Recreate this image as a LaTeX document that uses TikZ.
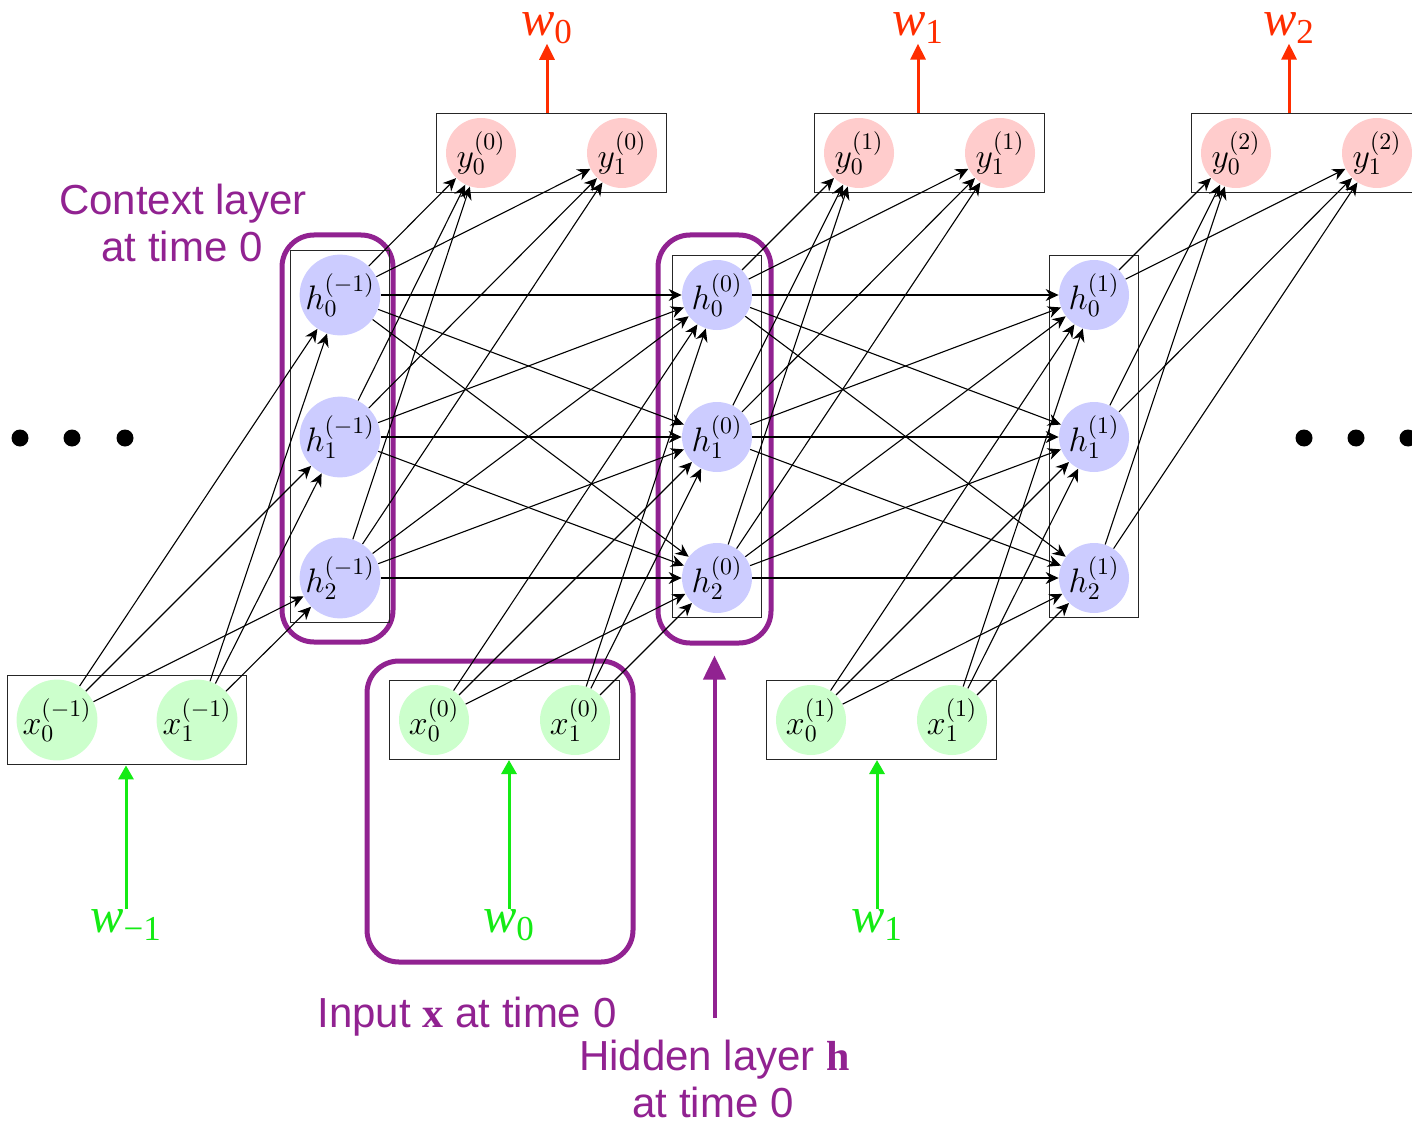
\RequirePackage{fix-cm}
\documentclass[tikz,border=0pt]{standalone}
\usepackage{fontspec}
\newfontfamily\labelsans{Liberation Sans}
\newfontfamily\labelserif{Liberation Serif}
\usetikzlibrary{arrows.meta,fit}
\definecolor{hblue}{RGB}{204,204,255}
\definecolor{ypink}{RGB}{255,204,204}
\definecolor{xgreen}{RGB}{204,255,204}
\definecolor{pur}{RGB}{145,34,145}
\definecolor{wred}{RGB}{255,45,0}
\definecolor{wgreen}{RGB}{20,235,20}
\tikzset{
  neuron/.style={circle, inner sep=0pt, minimum size=35pt, font=\fontsize{17}{20}\selectfont},
  hn/.style={neuron, fill=hblue},
  yn/.style={neuron, fill=ypink},
  xn/.style={neuron, fill=xgreen},
  widen/.style={minimum size=39.5pt},
  layerbox/.style={rectangle, draw=black!85, line width=0.6pt, inner xsep=4.5pt, inner ysep=2pt},
  conn/.style={-{Stealth[length=6.5pt,width=6pt]}, line width=0.55pt},
  hl/.style={rectangle, draw=pur, line width=2.5pt, rounded corners=16pt, inner sep=0pt},
  plab/.style={text=pur, font=\labelsans\fontsize{21}{24}\selectfont, inner sep=0pt, anchor=base},
  wlab/.style={font=\labelserif\fontsize{25}{30}\selectfont, inner sep=0pt},
  redarrow/.style={draw=wred, line width=1.5pt, -{Triangle[length=8pt,width=7.5pt]}},
  greenarrow/.style={draw=wgreen, line width=1.5pt, -{Triangle[length=7pt,width=7.5pt]}},
  parrow/.style={draw=pur, line width=2pt, -{Triangle[length=12pt,width=11pt]}}
}
\begin{document}
\begin{tikzpicture}[x=0.5pt,y=-0.5pt]
\path[fill=white,use as bounding box] (0,0) rectangle (1412,1123);

% purple highlight boxes
\node[hl, minimum width=55.5pt, minimum height=203.5pt] (ctxbox) at (337.5,438.5) {};
\node[hl, minimum width=56.5pt, minimum height=204pt] (hidbox) at (714.5,439) {};
\node[hl, minimum width=133pt, minimum height=150.5pt] (inbox) at (500,811.5) {};

% hidden layers
\node[hn, widen] (hA0) at (340,295) {$h_0^{(-1)}$};
\node[hn, widen] (hA1) at (340,437) {$h_1^{(-1)}$};
\node[hn, widen] (hA2) at (340,578) {$h_2^{(-1)}$};
\node[hn] (hB0) at (717,295) {$h_0^{(0)}$};
\node[hn] (hB1) at (717,437) {$h_1^{(0)}$};
\node[hn] (hB2) at (717,578) {$h_2^{(0)}$};
\node[hn] (hC0) at (1094,295) {$h_0^{(1)}$};
\node[hn] (hC1) at (1094,437) {$h_1^{(1)}$};
\node[hn] (hC2) at (1094,578) {$h_2^{(1)}$};

% input layers
\node[xn, widen] (xA0) at (57,720) {$x_0^{(-1)}$};
\node[xn, widen] (xA1) at (197,720) {$x_1^{(-1)}$};
\node[xn] (xB0) at (434,720) {$x_0^{(0)}$};
\node[xn] (xB1) at (575,720) {$x_1^{(0)}$};
\node[xn] (xC0) at (811,720) {$x_0^{(1)}$};
\node[xn] (xC1) at (952,720) {$x_1^{(1)}$};

% output layers
\node[yn] (yB0) at (481,153) {$y_0^{(0)}$};
\node[yn] (yB1) at (622,153) {$y_1^{(0)}$};
\node[yn] (yC0) at (859,153) {$y_0^{(1)}$};
\node[yn] (yC1) at (1000,153) {$y_1^{(1)}$};
\node[yn] (yD0) at (1236,153) {$y_0^{(2)}$};
\node[yn] (yD1) at (1377,153) {$y_1^{(2)}$};

% layer boxes
\node[layerbox, fit=(hA0)(hA2)] (hAbox) {};
\node[layerbox, fit=(hB0)(hB2)] (hBbox) {};
\node[layerbox, fit=(hC0)(hC2)] (hCbox) {};
\node[layerbox, fit=(xA0)(xA1)] (xAbox) {};
\node[layerbox, fit=(xB0)(xB1)] (xBbox) {};
\node[layerbox, fit=(xC0)(xC1)] (xCbox) {};
\node[layerbox, fit=(yB0)(yB1)] (yBbox) {};
\node[layerbox, fit=(yC0)(yC1)] (yCbox) {};
\node[layerbox, fit=(yD0)(yD1)] (yDbox) {};

% connectors
\foreach \T in {A,B,C}
  \foreach \i in {0,1}
    \foreach \j in {0,1,2}
      \draw[conn] (x\T\i) -- (h\T\j);
\foreach \S/\T in {A/B,B/C}
  \foreach \i in {0,1,2}
    \foreach \j in {0,1,2}
      \draw[conn] (h\S\i) -- (h\T\j);
\foreach \S/\T in {A/B,B/C,C/D}
  \foreach \i in {0,1,2}
    \foreach \j in {0,1}
      \draw[conn] (h\S\i) -- (y\T\j);

% output words
\node[wlab, text=wred] (oB) at (547,28) {\textit{w}\textsubscript{0}};
\node[wlab, text=wred] (oC) at (918,28) {\textit{w}\textsubscript{1}};
\node[wlab, text=wred] (oD) at (1289,28) {\textit{w}\textsubscript{2}};
\draw[redarrow] (oB |- yBbox.north) -- (oB.south);
\draw[redarrow] (oC |- yCbox.north) -- (oC.south);
\draw[redarrow] (oD |- yDbox.north) -- (oD.south);

% input words
\node[wlab, text=wgreen] (iA) at (126,925) {\textit{w}\textsubscript{−1}};
\node[wlab, text=wgreen] (iB) at (509,925) {\textit{w}\textsubscript{0}};
\node[wlab, text=wgreen] (iC) at (877,925) {\textit{w}\textsubscript{1}};
\draw[greenarrow] (iA.north) -- (iA |- xAbox.south);
\draw[greenarrow] (iB.north) -- (iB |- xBbox.south);
\draw[greenarrow] (iC.north) -- (iC |- xCbox.south);

% dots
\foreach \x in {20,72,125,1304,1356,1408}
  \fill (\x,438) circle[radius=4.25pt];

% purple labels
\node[plab] (ctx1) at (183,214) {Context layer};
\node[plab] (ctx2) at (182,262) {at time 0};
\node[plab] (inlab) at (467,1027) {Input {\labelserif\bfseries x} at time 0};
\node[plab] (hid1) at (714.5,1070) {Hidden layer {\labelserif\bfseries h}};
\node[plab] (hid2) at (713,1117) {at time 0};
\draw[parrow, shorten <=10.5pt, shorten >=5pt] (hid1.north) -- (hidbox.south);
\end{tikzpicture}
\end{document}
